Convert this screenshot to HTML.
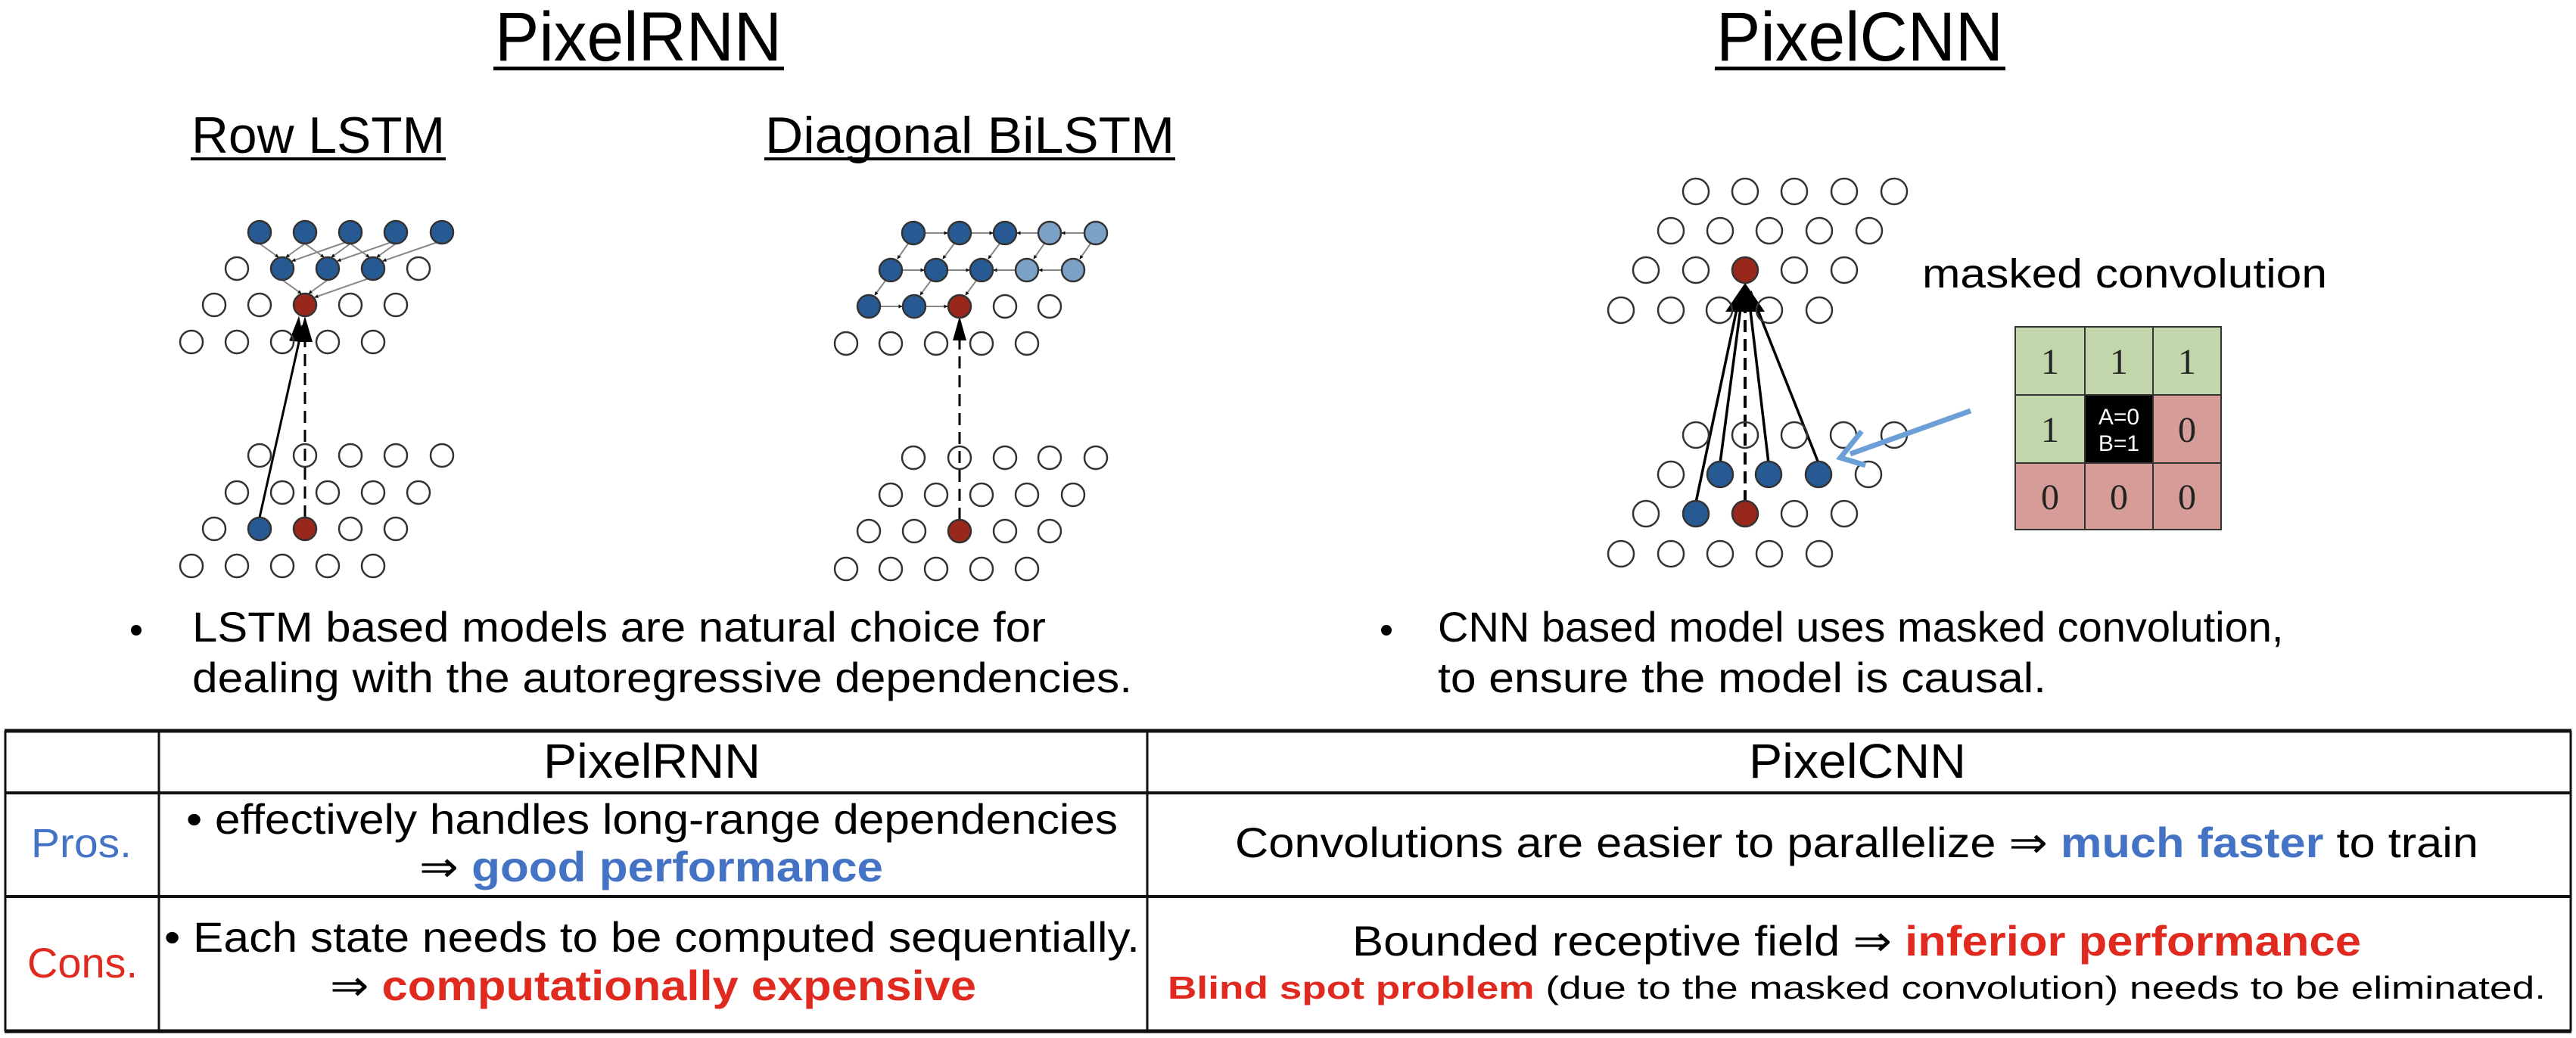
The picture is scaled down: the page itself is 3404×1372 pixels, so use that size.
<!DOCTYPE html>
<html><head><meta charset="utf-8"><style>
html,body{margin:0;padding:0;background:#fff;}
svg{display:block;}
text{font-family:"Liberation Sans",sans-serif;}
</style></head><body>
<svg width="3404" height="1372" viewBox="0 0 3404 1372" xmlns="http://www.w3.org/2000/svg">
<defs>
<marker id="sa" viewBox="0 0 10 10" refX="9" refY="5" markerWidth="5" markerHeight="5" orient="auto" markerUnits="userSpaceOnUse"><path d="M0,0 L10,5 L0,10 z" fill="#111"/></marker>
</defs>
<rect width="3404" height="1372" fill="#fff"/>

<text x="654" y="80" font-size="92" textLength="379" lengthAdjust="spacingAndGlyphs">PixelRNN</text>
<rect x="652" y="88" width="384" height="5" fill="#000"/>
<text x="2268" y="80" font-size="92" textLength="379" lengthAdjust="spacingAndGlyphs">PixelCNN</text>
<rect x="2266" y="88" width="384" height="5" fill="#000"/>
<text x="253" y="202" font-size="68" textLength="335" lengthAdjust="spacingAndGlyphs">Row LSTM</text>
<rect x="252" y="208" width="337" height="4" fill="#000"/>
<text x="1011" y="202" font-size="68" textLength="541" lengthAdjust="spacingAndGlyphs">Diagonal BiLSTM</text>
<rect x="1010" y="208" width="543" height="4" fill="#000"/>

<g stroke="#888" stroke-width="2" marker-end="url(#sa)">
<line x1="343" y1="322" x2="368" y2="340"/><line x1="403" y1="322" x2="378" y2="340"/><line x1="463" y1="318" x2="386" y2="345"/>
<line x1="403" y1="322" x2="428" y2="340"/><line x1="463" y1="322" x2="438" y2="340"/><line x1="523" y1="318" x2="446" y2="345"/>
<line x1="463" y1="322" x2="488" y2="340"/><line x1="523" y1="322" x2="498" y2="340"/><line x1="584" y1="318" x2="506" y2="345"/>
<line x1="373" y1="370" x2="398" y2="388"/><line x1="433" y1="370" x2="408" y2="388"/><line x1="493" y1="366" x2="416" y2="393"/>
</g>
<line x1="403" y1="684" x2="403" y2="430" stroke="#000" stroke-width="3" stroke-dasharray="16,9"/>
<line x1="343" y1="684" x2="400" y2="430" stroke="#000" stroke-width="3"/>
<path d="M394,418 L404,452 L384,452 z" fill="#000" transform="rotate(5 400 430)"/>
<path d="M403,418 L413,452 L393,452 z" fill="#000"/>

<g stroke="#333" stroke-width="2.5" fill="#fff">
<circle cx="343" cy="307" r="15" fill="#275a93"/><circle cx="403" cy="307" r="15" fill="#275a93"/><circle cx="463" cy="307" r="15" fill="#275a93"/><circle cx="523" cy="307" r="15" fill="#275a93"/><circle cx="584" cy="307" r="15" fill="#275a93"/>
<circle cx="313" cy="355" r="15"/><circle cx="373" cy="355" r="15" fill="#275a93"/><circle cx="433" cy="355" r="15" fill="#275a93"/><circle cx="493" cy="355" r="15" fill="#275a93"/><circle cx="553" cy="355" r="15"/>
<circle cx="283" cy="403" r="15"/><circle cx="343" cy="403" r="15"/><circle cx="403" cy="403" r="15" fill="#98271c"/><circle cx="463" cy="403" r="15"/><circle cx="523" cy="403" r="15"/>
<circle cx="253" cy="452" r="15" fill="none"/><circle cx="313" cy="452" r="15" fill="none"/><circle cx="373" cy="452" r="15" fill="none"/><circle cx="433" cy="452" r="15" fill="none"/><circle cx="493" cy="452" r="15" fill="none"/>
<circle cx="343" cy="602" r="15"/><circle cx="403" cy="602" r="15" fill="none"/><circle cx="463" cy="602" r="15"/><circle cx="523" cy="602" r="15"/><circle cx="584" cy="602" r="15"/>
<circle cx="313" cy="651" r="15" fill="none"/><circle cx="373" cy="651" r="15" fill="none"/><circle cx="433" cy="651" r="15" fill="none"/><circle cx="493" cy="651" r="15"/><circle cx="553" cy="651" r="15"/>
<circle cx="283" cy="699" r="15"/><circle cx="343" cy="699" r="15" fill="#275a93"/><circle cx="403" cy="699" r="15" fill="#98271c"/><circle cx="463" cy="699" r="15"/><circle cx="523" cy="699" r="15"/>
<circle cx="253" cy="748" r="15"/><circle cx="313" cy="748" r="15"/><circle cx="373" cy="748" r="15"/><circle cx="433" cy="748" r="15"/><circle cx="493" cy="748" r="15"/>
</g>

<g stroke="#888" stroke-width="2" marker-end="url(#sa)">
<line x1="1222" y1="308" x2="1252" y2="308"/><line x1="1283" y1="308" x2="1312" y2="308"/><line x1="1372" y1="308" x2="1344" y2="308"/><line x1="1433" y1="308" x2="1403" y2="308"/>
<line x1="1192" y1="357" x2="1221" y2="357"/><line x1="1252" y1="357" x2="1281" y2="357"/><line x1="1342" y1="357" x2="1313" y2="357"/><line x1="1403" y1="357" x2="1373" y2="357"/>
<line x1="1163" y1="405" x2="1192" y2="405"/><line x1="1223" y1="405" x2="1252" y2="405"/>
<line x1="1200" y1="322" x2="1186" y2="342"/><line x1="1261" y1="322" x2="1246" y2="342"/><line x1="1321" y1="322" x2="1306" y2="342"/><line x1="1380" y1="322" x2="1366" y2="342"/><line x1="1441" y1="322" x2="1427" y2="342"/>
<line x1="1170" y1="371" x2="1156" y2="390"/><line x1="1230" y1="371" x2="1216" y2="390"/><line x1="1290" y1="371" x2="1276" y2="390"/>
</g>
<line x1="1268" y1="687" x2="1268" y2="430" stroke="#000" stroke-width="3" stroke-dasharray="16,9"/>
<path d="M1268,418 L1277,450 L1259,450 z" fill="#000"/>
<g stroke="#333" stroke-width="2.5" fill="#fff">
<circle cx="1207" cy="308" r="15" fill="#275a93"/><circle cx="1268" cy="308" r="15" fill="#275a93"/><circle cx="1328" cy="308" r="15" fill="#275a93"/><circle cx="1387" cy="308" r="15" fill="#7ba1c6"/><circle cx="1448" cy="308" r="15" fill="#7ba1c6"/>
<circle cx="1177" cy="357" r="15" fill="#275a93"/><circle cx="1237" cy="357" r="15" fill="#275a93"/><circle cx="1297" cy="357" r="15" fill="#275a93"/><circle cx="1357" cy="357" r="15" fill="#7ba1c6"/><circle cx="1418" cy="357" r="15" fill="#7ba1c6"/>
<circle cx="1148" cy="405" r="15" fill="#275a93"/><circle cx="1208" cy="405" r="15" fill="#275a93"/><circle cx="1268" cy="405" r="15" fill="#98271c"/><circle cx="1328" cy="405" r="15"/><circle cx="1387" cy="405" r="15"/>
<circle cx="1118" cy="454" r="15" fill="none"/><circle cx="1177" cy="454" r="15" fill="none"/><circle cx="1237" cy="454" r="15" fill="none"/><circle cx="1297" cy="454" r="15" fill="none"/><circle cx="1357" cy="454" r="15" fill="none"/>
<circle cx="1207" cy="605" r="15"/><circle cx="1268" cy="605" r="15" fill="none"/><circle cx="1328" cy="605" r="15"/><circle cx="1387" cy="605" r="15"/><circle cx="1448" cy="605" r="15"/>
<circle cx="1177" cy="654" r="15"/><circle cx="1237" cy="654" r="15"/><circle cx="1297" cy="654" r="15"/><circle cx="1357" cy="654" r="15"/><circle cx="1418" cy="654" r="15"/>
<circle cx="1148" cy="702" r="15"/><circle cx="1208" cy="702" r="15"/><circle cx="1268" cy="702" r="15" fill="#98271c"/><circle cx="1328" cy="702" r="15"/><circle cx="1387" cy="702" r="15"/>
<circle cx="1118" cy="752" r="15"/><circle cx="1177" cy="752" r="15"/><circle cx="1237" cy="752" r="15"/><circle cx="1297" cy="752" r="15"/><circle cx="1357" cy="752" r="15"/>
</g>

<g stroke="#000" stroke-width="3.5">
<line x1="2241" y1="664" x2="2300" y2="385"/>
<line x1="2273" y1="612" x2="2303" y2="385"/>
<line x1="2337" y1="612" x2="2310" y2="385"/>
<line x1="2403" y1="612" x2="2313" y2="385"/>
</g>
<line x1="2306" y1="664" x2="2306" y2="390" stroke="#000" stroke-width="4" stroke-dasharray="16,9"/>
<path d="M2306,374 L2332,412 L2280,412 z" fill="#000"/>
<g stroke="#333" stroke-width="2.5" fill="#fff">
<circle cx="2241" cy="253" r="17"/><circle cx="2306" cy="253" r="17"/><circle cx="2371" cy="253" r="17"/><circle cx="2437" cy="253" r="17"/><circle cx="2503" cy="253" r="17"/>
<circle cx="2208" cy="305" r="17"/><circle cx="2273" cy="305" r="17"/><circle cx="2338" cy="305" r="17"/><circle cx="2404" cy="305" r="17"/><circle cx="2470" cy="305" r="17"/>
<circle cx="2175" cy="357" r="17"/><circle cx="2241" cy="357" r="17"/><circle cx="2306" cy="357" r="17" fill="#98271c"/><circle cx="2371" cy="357" r="17"/><circle cx="2437" cy="357" r="17"/>
<circle cx="2142" cy="410" r="17"/><circle cx="2208" cy="410" r="17"/><circle cx="2272" cy="410" r="17" fill="none"/><circle cx="2338" cy="410" r="17" fill="none"/><circle cx="2404" cy="410" r="17"/>
<circle cx="2241" cy="575" r="17" fill="none"/><circle cx="2306" cy="575" r="17" fill="none"/><circle cx="2371" cy="575" r="17" fill="none"/><circle cx="2436" cy="575" r="17" fill="none"/><circle cx="2503" cy="575" r="17" fill="none"/>
<circle cx="2208" cy="627" r="17"/><circle cx="2273" cy="627" r="17" fill="#275a93"/><circle cx="2337" cy="627" r="17" fill="#275a93"/><circle cx="2403" cy="627" r="17" fill="#275a93"/><circle cx="2469" cy="627" r="17"/>
<circle cx="2175" cy="679" r="17"/><circle cx="2241" cy="679" r="17" fill="#275a93"/><circle cx="2306" cy="679" r="17" fill="#98271c"/><circle cx="2371" cy="679" r="17"/><circle cx="2437" cy="679" r="17"/>
<circle cx="2142" cy="732" r="17"/><circle cx="2208" cy="732" r="17"/><circle cx="2273" cy="732" r="17"/><circle cx="2338" cy="732" r="17"/><circle cx="2404" cy="732" r="17"/>
</g>
<line x1="2604" y1="543" x2="2445" y2="600" stroke="#6c9fd6" stroke-width="7"/>
<polyline points="2460,570 2432,605 2465,615" fill="none" stroke="#6c9fd6" stroke-width="7"/>

<text x="2540" y="380" font-size="54" textLength="535" lengthAdjust="spacingAndGlyphs">masked convolution</text>

<g stroke="#333" stroke-width="2">
<rect x="2663" y="432" width="92" height="90" fill="#c2d6ac"/><rect x="2755" y="432" width="90" height="90" fill="#c2d6ac"/><rect x="2845" y="432" width="90" height="90" fill="#c2d6ac"/>
<rect x="2663" y="522" width="92" height="90" fill="#c2d6ac"/><rect x="2755" y="522" width="90" height="90" fill="#000"/><rect x="2845" y="522" width="90" height="90" fill="#d69c98"/>
<rect x="2663" y="612" width="92" height="88" fill="#d69c98"/><rect x="2755" y="612" width="90" height="88" fill="#d69c98"/><rect x="2845" y="612" width="90" height="88" fill="#d69c98"/>
</g>
<g font-size="48" fill="#222" text-anchor="middle">
<text x="2709" y="494" style="font-family:'Liberation Serif',serif">1</text><text x="2800" y="494" style="font-family:'Liberation Serif',serif">1</text><text x="2890" y="494" style="font-family:'Liberation Serif',serif">1</text>
<text x="2709" y="584" style="font-family:'Liberation Serif',serif">1</text><text x="2890" y="584" style="font-family:'Liberation Serif',serif">0</text>
<text x="2709" y="673" style="font-family:'Liberation Serif',serif">0</text><text x="2800" y="673" style="font-family:'Liberation Serif',serif">0</text><text x="2890" y="673" style="font-family:'Liberation Serif',serif">0</text>
</g>
<text x="2800" y="561" font-size="30" fill="#fff" text-anchor="middle">A=0</text>
<text x="2800" y="596" font-size="30" fill="#fff" text-anchor="middle">B=1</text>

<circle cx="180" cy="833" r="7" fill="#000"/>
<text x="254" y="848" font-size="56" textLength="1128" lengthAdjust="spacingAndGlyphs">LSTM based models are natural choice for</text>
<text x="254" y="915" font-size="56" textLength="1242" lengthAdjust="spacingAndGlyphs">dealing with the autoregressive dependencies.</text>
<circle cx="1832" cy="833" r="7" fill="#000"/>
<text x="1900" y="848" font-size="56">CNN based model uses masked convolution,</text>
<text x="1900" y="915" font-size="56" textLength="804" lengthAdjust="spacingAndGlyphs">to ensure the model is causal.</text>

<g stroke="#111" fill="none">
<line x1="6" y1="966" x2="3398" y2="966" stroke-width="5"/>
<line x1="6" y1="1048" x2="3398" y2="1048" stroke-width="4"/>
<line x1="6" y1="1185" x2="3398" y2="1185" stroke-width="4"/>
<line x1="6" y1="1363" x2="3398" y2="1363" stroke-width="5"/>
<line x1="7" y1="966" x2="7" y2="1363" stroke-width="3"/>
<line x1="210" y1="966" x2="210" y2="1363" stroke-width="3"/>
<line x1="1516" y1="966" x2="1516" y2="1363" stroke-width="3"/>
<line x1="3397" y1="966" x2="3397" y2="1363" stroke-width="3"/>
</g>
<text x="718" y="1028" font-size="64" textLength="287" lengthAdjust="spacingAndGlyphs">PixelRNN</text>
<text x="2311" y="1028" font-size="64" textLength="287" lengthAdjust="spacingAndGlyphs">PixelCNN</text>
<text x="41" y="1133" font-size="54" fill="#4472c4" textLength="133" lengthAdjust="spacingAndGlyphs">Pros.</text>
<text x="36" y="1292" font-size="56" fill="#e02a20" textLength="146" lengthAdjust="spacingAndGlyphs">Cons.</text>
<text x="246" y="1102" font-size="56" textLength="1231" lengthAdjust="spacingAndGlyphs">• effectively handles long-range dependencies</text>
<text x="554" y="1165" font-size="56" textLength="613" lengthAdjust="spacingAndGlyphs">⇒ <tspan fill="#4472c4" font-weight="bold">good performance</tspan></text>
<text x="217" y="1258" font-size="56" textLength="1289" lengthAdjust="spacingAndGlyphs">• Each state needs to be computed sequentially.</text>
<text x="436" y="1322" font-size="56" textLength="854" lengthAdjust="spacingAndGlyphs">⇒ <tspan fill="#e02a20" font-weight="bold">computationally expensive</tspan></text>
<text x="1632" y="1133" font-size="56" textLength="1643" lengthAdjust="spacingAndGlyphs">Convolutions are easier to parallelize ⇒ <tspan fill="#4472c4" font-weight="bold">much faster</tspan> to train</text>
<text x="1787" y="1263" font-size="56" textLength="1333" lengthAdjust="spacingAndGlyphs">Bounded receptive field ⇒ <tspan fill="#e02a20" font-weight="bold">inferior performance</tspan></text>
<text x="1543" y="1320" font-size="42" textLength="1821" lengthAdjust="spacingAndGlyphs"><tspan fill="#e02a20" font-weight="bold">Blind spot problem</tspan> (due to the masked convolution) needs to be eliminated.</text>
</svg>
</body></html>
